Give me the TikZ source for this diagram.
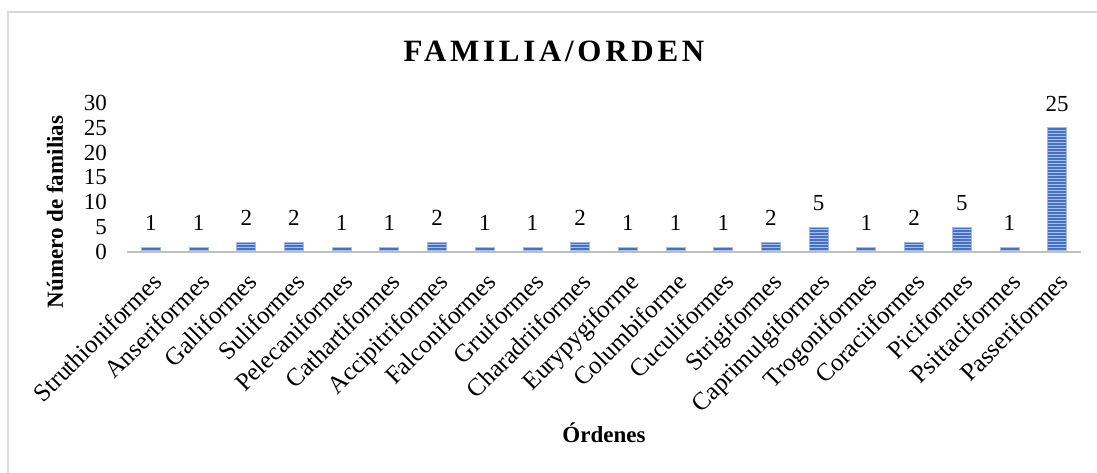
\documentclass[tikz,border=0pt]{standalone}
\usepackage{fontspec}
\setmainfont{Liberation Serif}
\usepackage{xcolor}
\usepackage{tikz}
\usetikzlibrary{patterns}

\definecolor{barblue}{RGB}{68,114,196}
\definecolor{axisgray}{RGB}{191,191,191}
\definecolor{framegray}{RGB}{217,217,217}

\begin{document}
\begin{tikzpicture}[x=1pt,y=-1pt]
		% Define styles for the labels and bars
		\tikzstyle{ticklabel} = [anchor=east, inner sep=0pt, font=\fontsize{23}{26}\selectfont]
		\tikzstyle{catlabel} = [anchor=north east, rotate=45, inner sep=0pt, font=\fontsize{25}{27}\selectfont]
		\tikzstyle{vallabel} = [anchor=south, inner sep=0pt, font=\fontsize{23}{26}\selectfont]
		\tikzstyle{bar} = [fill=barblue, draw=barblue!50!white, line width=0.8pt]
		\tikzstyle{stripes} = [pattern=horizontal lines, pattern color=white!55!barblue]
		\tikzstyle{axistitle} = [inner sep=0pt, font=\bfseries\fontsize{23}{26}\selectfont]
		
		\useasboundingbox (0,0) rectangle (1097,473);
		% Frame of the chart
		\draw [framegray, line width=1.5pt] (1097,12) -- (8,12) -- (8,473);
		
		% Title and axis titles
		\node (title) [anchor=base, inner sep=0pt] at (554,62) {\addfontfeature{LetterSpace=12}\bfseries\fontsize{31}{34}\selectfont FAMILIA/ORDEN};
		\node (ytitle) [axistitle, rotate=90] at (55,212) {Número de familias};
		\node (xtitle) [axistitle, anchor=base] at (604,442) {Órdenes};
		
		% Tick labels of the value axis
		\foreach \v in {0,5,...,30}
			\node (tick\v) [ticklabel] at (107,252-\v*4.97) {\v};
		
		% Bars, value labels and category labels
		\foreach \name/\val [count=\i] in {Struthioniformes/1, Anseriformes/1, Galliformes/2, Suliformes/2, Pelecaniformes/1, Cathartiformes/1, Accipitriformes/2, Falconiformes/1, Gruiformes/1, Charadriiformes/2, Eurypygiforme/1, Columbiforme/1, Cuculiformes/1, Strigiformes/2, Caprimulgiformes/5, Trogoniformes/1, Coraciiformes/2, Piciformes/5, Psittaciformes/1, Passeriformes/25} {
			\pgfmathsetmacro{\cx}{127+(\i-0.5)*47.7}
			\pgfmathsetmacro{\top}{252-\val*4.97}
			\draw [bar] (\cx-9.5,251) rectangle (\cx+9.5,\top);
			\fill [stripes] (\cx-9.5,251) rectangle (\cx+9.5,\top);
			\node (val\i) [vallabel] at (\cx,\top-16) {\val};
			\node (cat\i) [catlabel] at (\cx,271) {\name};
		}
		
		% Category axis
		\draw [axisgray, line width=2.5pt] (127,252) -- (1081,252);
	\end{tikzpicture}
\end{document}
